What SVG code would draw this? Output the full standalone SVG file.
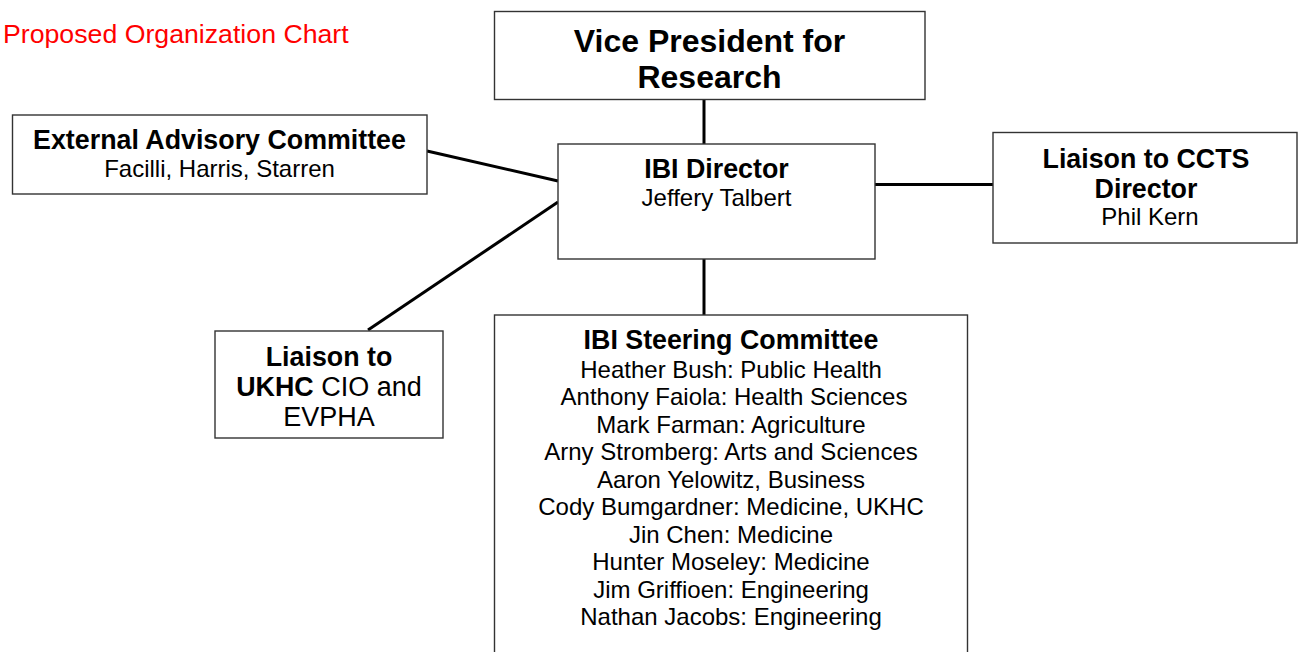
<svg xmlns="http://www.w3.org/2000/svg" width="1298" height="652" viewBox="0 0 1298 652">
<style>
.box{fill:#fff;stroke:#333;stroke-width:1.4}
.con{stroke:#000;stroke-width:3;fill:none}
text{font-family:"Liberation Sans",Arial,sans-serif;fill:#000;text-anchor:middle}
.b{font-weight:bold;font-size:26.8px}
.r{font-size:24px}
.r2{font-size:27px}
.vp{font-weight:bold;font-size:32px}
</style>
<rect width="1298" height="652" fill="#fff"/>
<text x="3" y="43" style="text-anchor:start;fill:#ff0000;font-size:26.7px">Proposed Organization Chart</text>
<g id="connectors">
<line class="con" x1="704" y1="100" x2="704" y2="144"/>
<line class="con" x1="704" y1="259" x2="704" y2="323"/>
<line class="con" x1="427" y1="151" x2="558" y2="181"/>
<line class="con" x1="368" y1="330" x2="558" y2="202"/>
<line class="con" x1="875" y1="184.5" x2="993" y2="184.5"/>
</g>
<g id="vp">
<rect class="box" x="494.5" y="11.5" width="430.5" height="88"/>
<text class="vp" x="709.5" y="52">Vice President for</text>
<text class="vp" x="709.5" y="88">Research</text>
</g>
<g id="director">
<rect class="box" x="558" y="144" width="317" height="115"/>
<text class="b" x="716.5" y="178">IBI Director</text>
<text class="r" x="716.5" y="206">Jeffery Talbert</text>
</g>
<g id="external">
<rect class="box" x="12.5" y="115" width="414.5" height="79"/>
<text class="b" x="219.5" y="149">External Advisory Committee</text>
<text class="r" x="219.5" y="177">Facilli, Harris, Starren</text>
</g>
<g id="ccts">
<rect class="box" x="993" y="132.5" width="304" height="110.5"/>
<text class="b" x="1146" y="168">Liaison to CCTS</text>
<text class="b" x="1146" y="198">Director</text>
<text class="r" x="1150" y="225">Phil Kern</text>
</g>
<g id="ukhc">
<rect class="box" x="215" y="331" width="228" height="107"/>
<text class="b" x="329" y="366">Liaison to</text>
<text class="r2" x="329" y="396"><tspan style="font-weight:bold;font-size:26.8px">UKHC</tspan> CIO and</text>
<text class="r2" x="329" y="426">EVPHA</text>
</g>
<g id="steering">
<rect class="box" x="494.5" y="315" width="473" height="345"/>
<text class="b" x="731" y="349">IBI Steering Committee</text>
<text class="r" x="731" y="377.5">Heather Bush: Public Health</text>
<text class="r" x="734" y="405">Anthony Faiola: Health Sciences</text>
<text class="r" x="731" y="432.5">Mark Farman: Agriculture</text>
<text class="r" x="731" y="460">Arny Stromberg: Arts and Sciences</text>
<text class="r" x="731" y="487.5">Aaron Yelowitz, Business</text>
<text class="r" x="731" y="515">Cody Bumgardner: Medicine, UKHC</text>
<text class="r" x="731" y="542.5">Jin Chen: Medicine</text>
<text class="r" x="731" y="570">Hunter Moseley: Medicine</text>
<text class="r" x="731" y="597.5">Jim Griffioen: Engineering</text>
<text class="r" x="731" y="625">Nathan Jacobs: Engineering</text>
</g>
</svg>
